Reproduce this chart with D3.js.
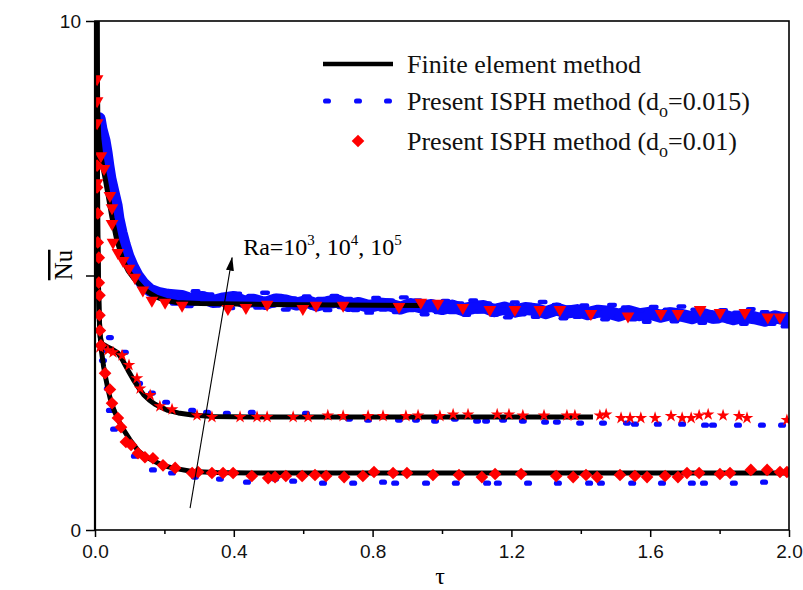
<!DOCTYPE html>
<html><head><meta charset="utf-8">
<script src="https://cdn.jsdelivr.net/npm/d3@7"></script>
<style>body{margin:0;background:#fff} svg{display:block}</style>
</head><body><svg id="c" width="803" height="590"></svg>
<script>
// ---- tick data ----
const xTickValues=[0,0.4,0.8,1.2,1.6,2.0];
const xMinorValues=[0.2,0.6,1.0,1.4,1.8];
const yTickValues=[0,5,10];
const yTickLabels=["0","","10"];

// ---- Finite element method (black lines) ----
const fem3=[[0.005,12],[0.006,9],[0.007,7],[0.008,5.8],[0.01,4.8],[0.012,4.2],[0.015,3.8],[0.018,3.55],[0.025,3.2],[0.032,2.95],[0.037,2.78],[0.045,2.55],[0.055,2.35],[0.068,2.15],[0.081,1.98],[0.1,1.78],[0.124,1.56],[0.144,1.45],[0.17,1.35],[0.2,1.26],[0.23,1.21],[0.28,1.15],[0.35,1.13],[0.45,1.12],[2.0,1.12]];
const fem4=[[0.005,12],[0.006,9],[0.007,7],[0.008,5.8],[0.01,4.8],[0.012,4.2],[0.015,3.8],[0.02,3.66],[0.035,3.6],[0.05,3.55],[0.066,3.48],[0.08,3.33],[0.095,3.14],[0.11,2.96],[0.124,2.81],[0.14,2.66],[0.157,2.55],[0.173,2.47],[0.19,2.41],[0.21,2.35],[0.24,2.3],[0.28,2.26],[0.34,2.23],[0.45,2.22],[1.435,2.22]];
const fem5=[[0.005,12],[0.006,9.5],[0.008,8.2],[0.011,7.7],[0.016,7.4],[0.023,7.12],[0.03,6.88],[0.037,6.61],[0.049,6.14],[0.063,5.69],[0.081,5.29],[0.095,5.1],[0.11,4.96],[0.138,4.75],[0.16,4.64],[0.179,4.57],[0.205,4.51],[0.236,4.47],[0.303,4.45],[0.5,4.43],[0.7,4.42],[0.94,4.41]];

// ---- Present ISPH (d0=0.015), blue ----
const isph015_3=[[0.023,3.53],[0.023,3.33],[0.037,2.78],[0.043,2.35],[0.055,1.98],[0.115,1.45],[0.167,1.18],[0.222,1.12],[0.288,1.04],[0.36,1.0],[0.438,0.94],[0.519,1.0],[0.571,0.96],[0.657,0.92],[0.744,0.92],[0.83,0.94],[0.865,0.92],[0.954,0.92],[1.04,0.92],[1.13,0.92],[1.161,0.92],[1.248,0.92],[1.334,0.92],[1.424,0.92],[1.458,0.92],[1.548,0.92],[1.634,0.92],[1.72,0.92],[1.755,0.92],[1.841,0.92],[1.928,0.94]];
const isph015_4=[[0.043,3.78],[0.086,3.49],[0.127,2.88],[0.164,2.69],[0.205,2.51],[0.28,2.35],[0.323,2.31],[0.38,2.29],[0.452,2.31],[0.608,2.29],[0.732,2.18],[0.787,2.16],[0.876,2.16],[0.925,2.16],[0.98,2.14],[1.037,2.18],[1.101,2.14],[1.127,2.14],[1.176,2.16],[1.233,2.14],[1.297,2.12],[1.331,2.12],[1.398,2.1],[1.464,2.1],[1.533,2.1],[1.556,2.08],[1.622,2.08],[1.692,2.08],[1.758,2.06],[1.781,2.06],[1.853,2.06],[1.922,2.06],[1.98,2.06]];
const isph015_5=[[0.012,8.08],[0.017,7.88],[0.026,7.65],[0.032,7.41],[0.037,7.16],[0.043,6.9],[0.052,6.63],[0.061,6.37],[0.066,6.12],[0.075,5.84],[0.084,5.61],[0.095,5.37],[0.107,5.18],[0.121,5.0],[0.138,4.84],[0.159,4.71],[0.182,4.65],[0.21,4.61],
[0.25,4.59],[0.28,4.52],[0.31,4.57],[0.34,4.49],[0.37,4.54],[0.40,4.57],[0.43,4.48],[0.46,4.51],[0.49,4.45],[0.52,4.52],[0.55,4.50],[0.58,4.44],[0.61,4.49],[0.64,4.42],[0.67,4.47],[0.70,4.50],[0.73,4.41],[0.76,4.45],[0.79,4.39],[0.82,4.44],[0.85,4.42],[0.88,4.36],[0.91,4.43],[0.94,4.38],[0.97,4.41],[1.00,4.35],[1.03,4.40],[1.06,4.33],[1.09,4.37],[1.12,4.39],[1.15,4.31],[1.18,4.36],[1.21,4.30],[1.24,4.35],[1.27,4.33],[1.30,4.27],[1.33,4.34],[1.36,4.28],[1.39,4.31],[1.42,4.25],[1.45,4.30],[1.48,4.28],[1.51,4.22],[1.54,4.29],[1.57,4.23],[1.60,4.26],[1.63,4.20],[1.66,4.25],[1.69,4.22],[1.72,4.17],[1.75,4.24],[1.78,4.18],[1.81,4.21],[1.84,4.15],[1.87,4.20],[1.90,4.17],[1.93,4.12],[1.96,4.19],[1.99,4.14],[2.0,4.16]];
// scattered particles of the same run around the band (upper and lower edges)
const isph015_5up=[[0.21,4.68],[0.25,4.63],[0.29,4.69],[0.33,4.63],[0.37,4.58],[0.41,4.64],[0.45,4.60],[0.49,4.66],[0.53,4.60],[0.57,4.55],[0.61,4.59],[0.65,4.54],[0.69,4.60],[0.73,4.54],[0.77,4.49],[0.81,4.56],[0.85,4.51],[0.89,4.57],[0.93,4.51],[0.97,4.46],[1.01,4.50],[1.05,4.45],[1.09,4.51],[1.13,4.45],[1.17,4.41],[1.21,4.47],[1.25,4.42],[1.29,4.48],[1.33,4.42],[1.37,4.37],[1.41,4.41],[1.45,4.36],[1.49,4.42],[1.53,4.37],[1.57,4.32],[1.61,4.38],[1.65,4.33],[1.69,4.39],[1.73,4.33],[1.77,4.28],[1.81,4.32],[1.85,4.27],[1.89,4.34],[1.93,4.28],[1.97,4.23]];
const isph015_5lo=[[0.23,4.45],[0.27,4.40],[0.31,4.47],[0.35,4.41],[0.39,4.36],[0.43,4.42],[0.47,4.37],[0.51,4.41],[0.55,4.33],[0.59,4.36],[0.63,4.37],[0.67,4.32],[0.71,4.38],[0.75,4.32],[0.79,4.27],[0.83,4.33],[0.87,4.28],[0.91,4.32],[0.95,4.24],[0.99,4.28],[1.03,4.28],[1.07,4.23],[1.11,4.29],[1.15,4.23],[1.19,4.18],[1.23,4.24],[1.27,4.19],[1.31,4.23],[1.35,4.16],[1.39,4.19],[1.43,4.19],[1.47,4.14],[1.51,4.20],[1.55,4.14],[1.59,4.09],[1.63,4.15],[1.67,4.10],[1.71,4.15],[1.75,4.07],[1.79,4.10],[1.83,4.10],[1.87,4.05],[1.91,4.11],[1.95,4.05],[1.99,4.00]];

// ---- Present ISPH (d0=0.01), red ----
const isph01_3=[[0.006,7.16],[0.006,6.73],[0.008,6.22],[0.008,5.65],[0.011,5.35],[0.011,4.86],[0.013,4.61],[0.013,4.22],[0.014,3.92],[0.017,3.63],[0.029,3.08],[0.043,2.76],[0.049,2.49],[0.066,2.2],[0.075,2.02],[0.089,1.73],[0.104,1.67],[0.124,1.51],[0.144,1.43],[0.167,1.41],[0.196,1.27],[0.231,1.22],[0.28,1.12],[0.297,1.14],[0.337,1.12],[0.369,1.12],[0.398,1.12],[0.452,1.06],[0.499,1.02],[0.519,1.04],[0.55,1.06],[0.597,1.06],[0.634,1.08],[0.666,1.06],[0.718,1.04],[0.772,1.06],[0.804,1.14],[0.859,1.12],[0.899,1.12],[0.974,1.08],[1.049,1.08],[1.115,1.04],[1.153,1.1],[1.228,1.1],[1.329,1.06],[1.378,1.04],[1.415,1.08],[1.447,1.04],[1.513,1.08],[1.556,1.06],[1.591,1.04],[1.643,1.06],[1.68,1.04],[1.706,1.12],[1.741,1.12],[1.801,1.1],[1.83,1.12],[1.89,1.18],[1.937,1.18],[1.974,1.14],[1.994,1.14]];
const isph01_4=[[0.014,3.59],[0.037,3.53],[0.052,3.49],[0.078,3.43],[0.098,3.24],[0.121,2.98],[0.13,2.78],[0.159,2.65],[0.187,2.43],[0.222,2.37],[0.294,2.25],[0.337,2.22],[0.418,2.22],[0.467,2.22],[0.496,2.22],[0.571,2.22],[0.614,2.22],[0.671,2.25],[0.715,2.24],[0.787,2.24],[0.83,2.24],[0.896,2.24],[0.931,2.25],[0.994,2.24],[1.032,2.27],[1.075,2.27],[1.159,2.27],[1.193,2.27],[1.233,2.25],[1.294,2.25],[1.36,2.25],[1.383,2.25],[1.455,2.25],[1.473,2.27],[1.516,2.2],[1.542,2.2],[1.573,2.2],[1.614,2.2],[1.66,2.24],[1.692,2.2],[1.718,2.2],[1.741,2.25],[1.767,2.27],[1.81,2.25],[1.856,2.24],[1.879,2.2],[1.994,2.16]];
const isph01_5=[[0.006,8.86],[0.006,8.43],[0.006,8.0],[0.017,7.35],[0.026,7.1],[0.006,6.82],[0.043,6.57],[0.049,6.33],[0.049,6.02],[0.052,5.65],[0.066,5.45],[0.081,5.29],[0.098,5.14],[0.115,4.96],[0.138,4.71],[0.164,4.51],[0.202,4.47],[0.251,4.41],[0.383,4.35],[0.435,4.37],[0.496,4.43],[0.599,4.35],[0.637,4.41],[0.715,4.41],[0.876,4.39],[0.939,4.47],[0.988,4.45],[1.06,4.37],[1.138,4.33],[1.21,4.33],[1.282,4.33],[1.34,4.33],[1.429,4.25],[1.536,4.2],[1.631,4.25],[1.68,4.25],[1.744,4.33],[1.801,4.27],[1.873,4.27],[1.939,4.18],[1.974,4.18]];

// ---- annotation & legend text ----
const arrowFrom=[0.274,0.43], arrowTo=[0.395,5.35], raLabelPos=[0.427,5.4];
const legendNames=["Finite element method","Present ISPH method (d","Present ISPH method (d"];
const legendSubs=["","o","o"];
const legendTails=["","=0.015)","=0.01)"];

const L=95,R=789,T=21,B=530;
const svg=d3.select("#c");
const x=d3.scaleLinear().domain([0,2]).range([L,R]);
const y=d3.scaleLinear().domain([0,10]).range([B,T]);
const serif="'Liberation Serif','Times New Roman',serif";
const sans="'Liberation Sans',Arial,sans-serif";
const BLUE="#0a0aff", RED="#ff0000";

svg.append("defs").append("clipPath").attr("id","clip").append("rect")
  .attr("x",L).attr("y",T).attr("width",R-L).attr("height",B-T);
const plot=svg.append("g").attr("clip-path","url(#clip)");

const line=d3.line().x(d=>x(d[0])).y(d=>y(d[1]));

// blue band (dense d0=0.015 data for Ra=1e5)
plot.append("path").datum(isph015_5).attr("d",line).attr("fill","none")
  .attr("stroke",BLUE).attr("stroke-width",13).attr("stroke-linejoin","round").attr("stroke-linecap","round");
function dashMarks(data,w,h){
  plot.append("g").selectAll("rect").data(data).join("rect")
   .attr("x",d=>x(d[0])-w/2).attr("y",d=>y(d[1])-h/2).attr("width",w).attr("height",h).attr("rx",h/2)
   .attr("fill",BLUE);
}
dashMarks(isph015_3,8,5.2); dashMarks(isph015_4,8,5.2);
dashMarks(isph015_5up,10,4.4); dashMarks(isph015_5lo,10,4.4);

// FEM lines
[fem3,fem4,fem5].forEach(s=>{
  plot.append("path").datum(s).attr("d",line).attr("fill","none")
   .attr("stroke","#000").attr("stroke-width",5).attr("stroke-linejoin","round");
});

// red markers
function sym(data,type,size,rot){
  plot.append("g").selectAll("path").data(data).join("path")
   .attr("d",d3.symbol().type(type).size(size))
   .attr("transform",d=>`translate(${x(d[0])},${y(d[1])}) rotate(${rot})`)
   .attr("fill",RED);
}
sym(isph01_5,d3.symbolTriangle,70,180);
sym(isph01_4,d3.symbolStar,50,0);
sym(isph01_3,d3.symbolSquare,80,45);

// axes
const xAxis=d3.axisBottom(x).tickValues(xTickValues).tickFormat(d3.format(".1f")).tickSizeInner(7).tickSizeOuter(0).tickPadding(4);
const gx=svg.append("g").attr("transform",`translate(0,${B})`).call(xAxis);
const gxm=svg.append("g").attr("transform",`translate(0,${B})`).call(d3.axisBottom(x).tickValues(xMinorValues).tickFormat("").tickSizeInner(4).tickSizeOuter(0));
const yAxis=d3.axisLeft(y).tickValues(yTickValues).tickFormat((d,i)=>yTickLabels[i]).tickSizeInner(9).tickSizeOuter(0).tickPadding(5);
const gy=svg.append("g").attr("transform",`translate(${L},0)`).call(yAxis);
[gx,gxm,gy].forEach(g=>{g.select(".domain").remove();g.selectAll("line").attr("stroke","#000").attr("stroke-width",1.5);
  g.selectAll("text").attr("font-family",sans).attr("font-size",19).attr("fill","#111");});
gx.selectAll("text").attr("dy","0.9em");
// frame
svg.append("rect").attr("x",L).attr("y",T).attr("width",R-L).attr("height",B-T)
  .attr("fill","none").attr("stroke","#000").attr("stroke-width",1.6);
svg.append("line").attr("x1",L).attr("x2",L).attr("y1",T).attr("y2",B).attr("stroke","#000").attr("stroke-width",2.2);

// axis titles
svg.append("text").attr("x",(L+R)/2-2).attr("y",584).attr("text-anchor","middle")
  .attr("font-family",serif).attr("font-size",24).text("τ");
svg.append("text").attr("transform","translate(72,265) rotate(-90)").attr("text-anchor","middle")
  .attr("font-family",serif).attr("font-size",25).style("text-decoration","overline").text("Nu");

// arrow annotation
const defs=svg.select("defs");
defs.append("marker").attr("id","ah").attr("viewBox","0 0 14 8").attr("refX",13).attr("refY",4)
  .attr("markerWidth",14).attr("markerHeight",8).attr("markerUnits","userSpaceOnUse").attr("orient","auto")
  .append("path").attr("d","M0,0 L14,4 L0,8 Z").attr("fill","#000");
svg.append("line").attr("x1",x(arrowFrom[0])).attr("y1",y(arrowFrom[1])).attr("x2",x(arrowTo[0])).attr("y2",y(arrowTo[1]))
  .attr("stroke","#000").attr("stroke-width",1.1).attr("marker-end","url(#ah)");
const ra=svg.append("text").attr("x",x(raLabelPos[0])).attr("y",y(raLabelPos[1])).attr("font-family",serif).attr("font-size",24);
ra.append("tspan").text("Ra=10");
ra.append("tspan").attr("dy",-10).attr("font-size",15).text("3");
ra.append("tspan").attr("dy",10).text(", 10");
ra.append("tspan").attr("dy",-10).attr("font-size",15).text("4");
ra.append("tspan").attr("dy",10).text(", 10");
ra.append("tspan").attr("dy",-10).attr("font-size",15).text("5");

// legend
const lg=svg.append("g");
const rows=[64,101,141];
lg.append("line").attr("x1",323).attr("x2",393).attr("y1",rows[0]).attr("y2",rows[0]).attr("stroke","#000").attr("stroke-width",4.5);
[327,358,388].forEach(cx=>lg.append("rect").attr("x",cx-4).attr("y",rows[1]-2.6).attr("width",8).attr("height",5.2).attr("rx",2.6).attr("fill",BLUE));
lg.append("path").attr("d",d3.symbol().type(d3.symbolSquare).size(80)).attr("transform",`translate(358,${rows[2]}) rotate(45)`).attr("fill",RED);
legendNames.forEach((n,i)=>{
  const t=lg.append("text").attr("x",407).attr("y",rows[i]+9).attr("font-family",serif).attr("font-size",26).attr("fill","#111");
  t.append("tspan").text(n);
  if(legendSubs[i]){
    t.append("tspan").attr("dy",7).attr("font-size",18).text(legendSubs[i]);
    t.append("tspan").attr("dy",-7).text(legendTails[i]);
  }
});
</script></body></html>
